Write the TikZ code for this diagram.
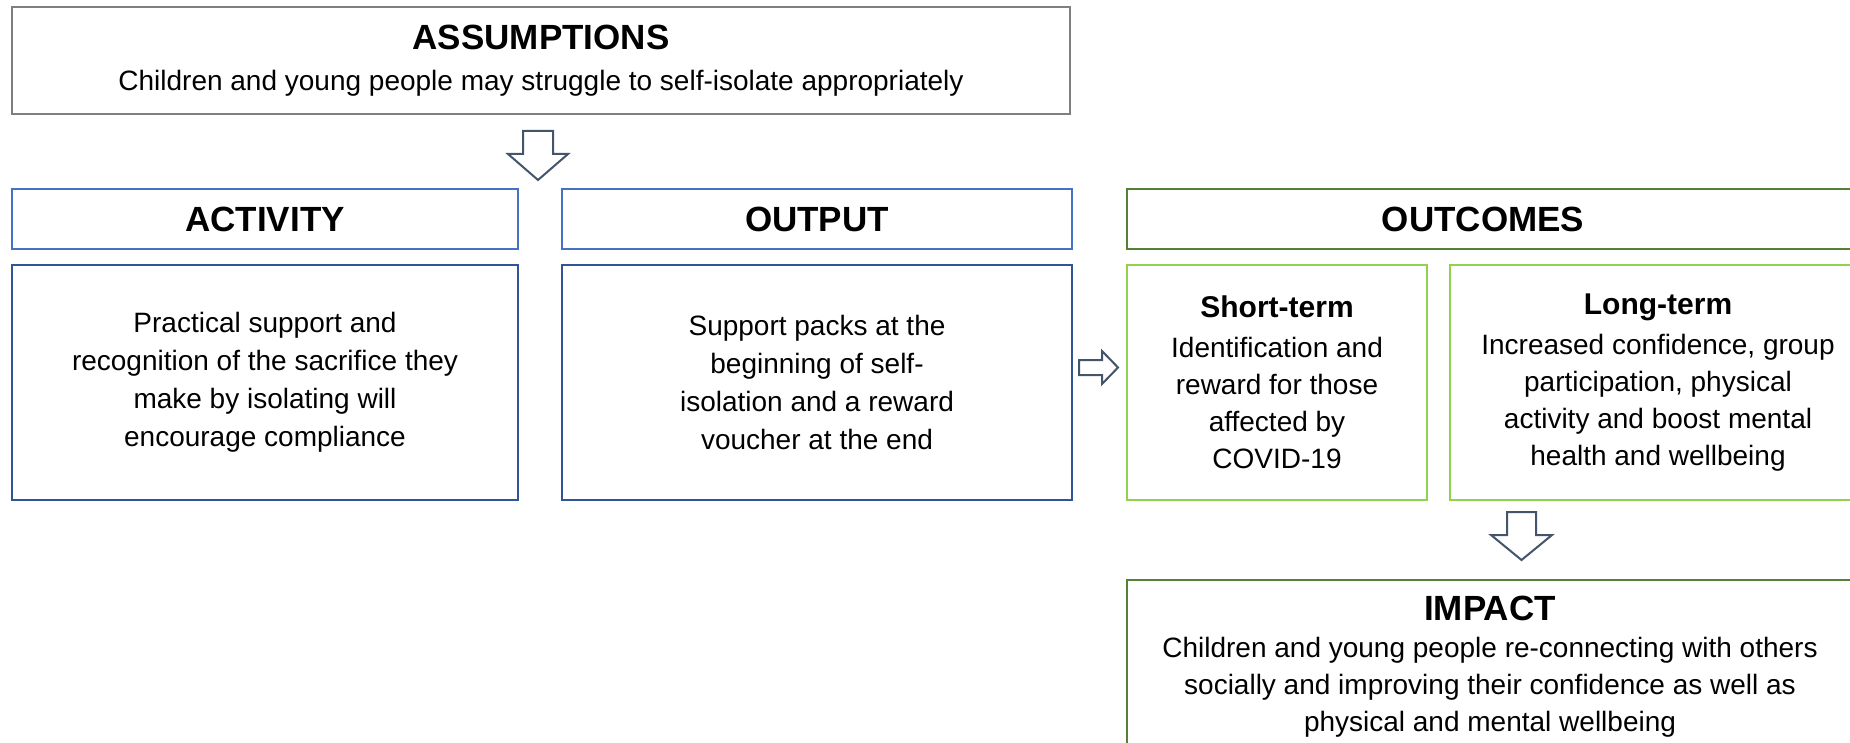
\documentclass[tikz,border=0pt]{standalone}
\usepackage{fontspec}
\setmainfont{Liberation Sans}
\usetikzlibrary{positioning}
\definecolor{assumgray}{RGB}{127,127,127}
\definecolor{headblue}{RGB}{68,114,196}
\definecolor{bodyblue}{RGB}{47,85,151}
\definecolor{arrowslate}{RGB}{68,84,106}
\definecolor{darkgreen}{RGB}{84,130,53}
\definecolor{lightgreen}{RGB}{146,208,80}
\newcommand{\headfont}{\fontsize{17.5}{20}\selectfont\bfseries}
\newcommand{\subfont}{\fontsize{15}{18}\selectfont\bfseries}
\tikzset{
  box/.style={draw, line width=1pt, align=center, inner sep=0pt,
    font=\fontsize{14}{18.5}\selectfont},
  headbox/.style={box, draw=headblue, minimum height=30pt, font=\headfont},
  bodybox/.style={box, draw=bodyblue, minimum height=117.5pt},
  greenbox/.style={box, draw=lightgreen, minimum height=117.5pt},
  blkarrow/.style={draw=arrowslate, line width=1pt, fill=white, line join=miter}
}
\begin{document}
\begin{tikzpicture}[x=0.5pt,y=-0.5pt]
\useasboundingbox (0,0) rectangle (1850,743);
\clip (0,0) rectangle (1850,743);
% assumptions at the top
\node[box, draw=assumgray, minimum width=529pt, minimum height=53.5pt] (assum) at (541,60.5)
  {{\headfont ASSUMPTIONS}\\[2pt] Children and young people may struggle to self-isolate appropriately};
% left columns
\node[headbox, minimum width=253pt] (acthead) at (265,219) {ACTIVITY};
\node[headbox, minimum width=255pt, right=21pt of acthead] (outhead) {OUTPUT};
\node[bodybox, minimum width=253pt, below=7pt of acthead] (actbody)
  {Practical support and\\[0.5pt] recognition of the sacrifice they\\[0.5pt] make by isolating will\\[0.5pt] encourage compliance};
\node[bodybox, minimum width=255pt, below=7pt of outhead] (outbody)
  {Support packs at the\\[0.5pt] beginning of self-\\[0.5pt] isolation and a reward\\[0.5pt] voucher at the end};
% outcomes
\node[box, draw=darkgreen, minimum width=366.5pt, minimum height=30pt, font=\headfont] (outchead) at (1493.5,219) {};
\node[font=\headfont] (outctitle) at (1483,219) {OUTCOMES};
\node[greenbox, minimum width=150pt] (short) at (1277,382.5)
  {{\subfont Short-term}\\[1.5pt] Identification and\\ reward for those\\ affected by\\ COVID-19};
\node[greenbox, minimum width=208pt] (long) at (1658,382.5)
  {{\subfont Long-term}\\[1.5pt] Increased confidence, group\\ participation, physical\\ activity and boost mental\\ health and wellbeing};
% impact, runs off the page
\node[box, draw=darkgreen, minimum width=366.5pt, minimum height=86pt] (impact) at (1493.5,666) {};
\node[align=center, font=\fontsize{14}{18.5}\selectfont] (impacttext) at (1490,667)
  {{\headfont IMPACT}\\ Children and young people re-connecting with others\\ socially and improving their confidence as well as\\ physical and mental wellbeing};
% block arrows
\draw[blkarrow] (523,131) -- (553,131) -- (553,154) -- (568,154) -- (538,180) -- (508,154) -- (523,154) -- cycle; %down into activity/output
\draw[blkarrow] (1079,360) -- (1102,360) -- (1102,351) -- (1118,367.5) -- (1102,384) -- (1102,375) -- (1079,375) -- cycle; %right to outcomes
\draw[blkarrow] (1507,512) -- (1536,512) -- (1536,535) -- (1552,535) -- (1521.5,560) -- (1491,535) -- (1507,535) -- cycle; %down to impact
\end{tikzpicture}
\end{document}
